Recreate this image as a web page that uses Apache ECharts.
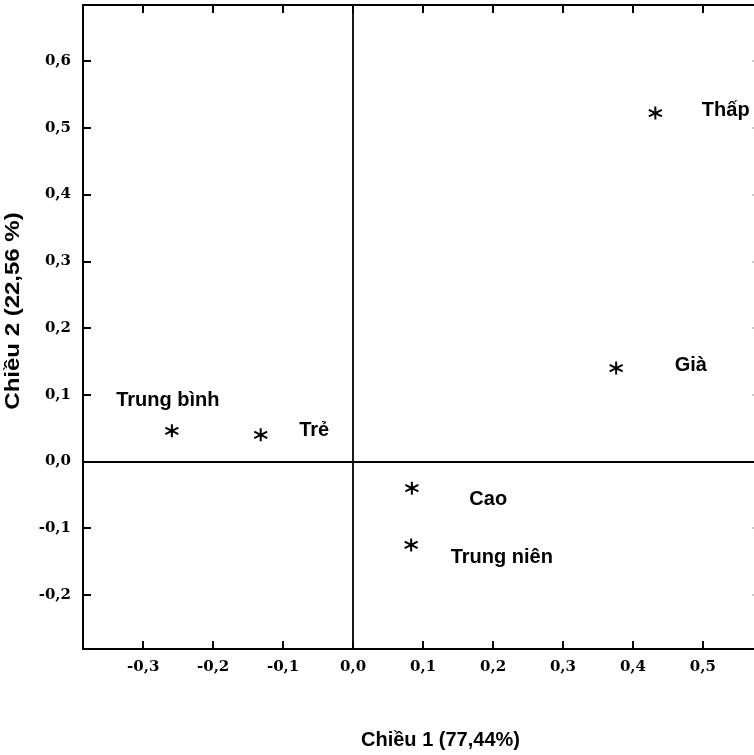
<!DOCTYPE html>
<html>
<head>
<meta charset="utf-8">
<script src="https://cdn.jsdelivr.net/npm/echarts@6/dist/echarts.min.js"></script>
<style>
html, body { margin: 0; padding: 0; background: #fff; }
#chart { width: 754px; height: 755px; }
</style>
</head>
<body>
<div id="chart"></div>
<script>
var dom = document.getElementById("chart");
var myChart = echarts.init(dom);

// data
var names = ['Thấp', 'Già', 'Trung bình', 'Trẻ', 'Cao', 'Trung niên'];
var dim1 = [0.432, 0.376, -0.259, -0.132, 0.084, 0.083];
var dim2 = [0.522, 0.140, 0.046, 0.040, -0.040, -0.125];
var xTicks = [-0.3, -0.2, -0.1, 0.0, 0.1, 0.2, 0.3, 0.4, 0.5];
var yTicks = [-0.2, -0.1, 0.0, 0.1, 0.2, 0.3, 0.4, 0.5, 0.6];

// where each label sits next to its star
var labelPos = {
    'Thấp': {position: 'right', offset: [34, -3]},
    'Già': {position: 'right', offset: [46, -3]},
    'Trung bình': {position: 'top', offset: [-4, -8]},
    'Trẻ': {position: 'right', offset: [26, -4]},
    'Cao': {position: 'right', offset: [45, 11]},
    'Trung niên': {position: 'right', offset: [27, 13]}
};

var fmt = function (v) {
    return v.toFixed(1).replace('.', ',');
};

var points = names.map(function (n, i) {
    return {
        name: n,
        value: [dim1[i], dim2[i]],
        label: labelPos[n]
    };
});

var star = 'path://M0,-6L0,6M-5.2,-3L5.2,3M-5.2,3L5.2,-3';

var tickStyle = {show: true, inside: true, length: 8, lineStyle: {color: '#000', width: 2}};
var lineStyle = {color: '#000', width: 2};
var tickFont = {fontFamily: 'DejaVu Serif', fontWeight: 'bold', fontSize: 15, color: '#000'};

option = {
    animation: false,
    backgroundColor: '#fff',
    grid: {
        left: 83, right: 0, top: 5, bottom: 104,
        show: false
    },
    graphic: [
        {
            type: 'text',
            x: 13, y: 311,
            rotation: Math.PI / 2,
            scaleX: 1.2,
            style: {
                text: 'Chiều 2 (22,56 %)',
                fontFamily: 'Liberation Sans', fontWeight: 'bold', fontSize: 20,
                fill: '#000', align: 'center', verticalAlign: 'middle'
            }
        }
    ],
    xAxis: [
        {
            type: 'value',
            min: -0.386, max: 0.573,
            name: 'Chiều 1 (77,44%)',
            nameLocation: 'middle',
            nameGap: 81,
            nameTextStyle: {
                fontFamily: 'Liberation Sans', fontWeight: 'bold', fontSize: 20,
                color: '#000', padding: [0, 0, 0, 44]
            },
            axisLine: {show: true, onZero: false, lineStyle: lineStyle},
            axisTick: echarts.util.extend({customValues: xTicks}, tickStyle),
            axisLabel: echarts.util.extend({
                customValues: xTicks,
                formatter: fmt,
                margin: 11
            }, tickFont),
            splitLine: {show: false}
        },
        {
            type: 'value',
            position: 'top',
            min: -0.386, max: 0.573,
            axisLine: {show: true, onZero: false, lineStyle: lineStyle},
            axisTick: echarts.util.extend({customValues: xTicks}, tickStyle),
            axisLabel: {show: false},
            splitLine: {show: false}
        }
    ],
    yAxis: [
        {
            type: 'value',
            min: -0.281, max: 0.684,
            axisLine: {show: true, onZero: false, lineStyle: lineStyle},
            axisTick: echarts.util.extend({customValues: yTicks}, tickStyle),
            axisLabel: echarts.util.extend({
                customValues: yTicks,
                formatter: fmt,
                margin: 12
            }, tickFont),
            splitLine: {show: false}
        },
        {
            type: 'value',
            position: 'right',
            min: -0.281, max: 0.684,
            axisLine: {show: false, onZero: false},
            axisTick: {show: true, inside: true, length: 2, customValues: yTicks, lineStyle: {color: '#bbb', width: 1.5}},
            axisLabel: {show: false},
            splitLine: {show: false}
        }
    ],
    series: [
        {
            type: 'scatter',
            symbol: star,
            symbolSize: 13,
            itemStyle: {color: 'transparent', borderColor: '#000', borderWidth: 2, opacity: 1},
            label: {
                show: true,
                formatter: '{b}',
                fontFamily: 'Liberation Sans', fontWeight: 'bold', fontSize: 20, color: '#000'
            },
            data: points,
            markLine: {
                silent: true,
                symbol: 'none',
                label: {show: false},
                lineStyle: {color: '#000', width: 1.8, type: 'solid'},
                data: [{xAxis: 0}, {yAxis: 0}]
            }
        }
    ]
};

if (option && typeof option === "object") {
    myChart.setOption(option, true);
}
</script>
</body>
</html>
